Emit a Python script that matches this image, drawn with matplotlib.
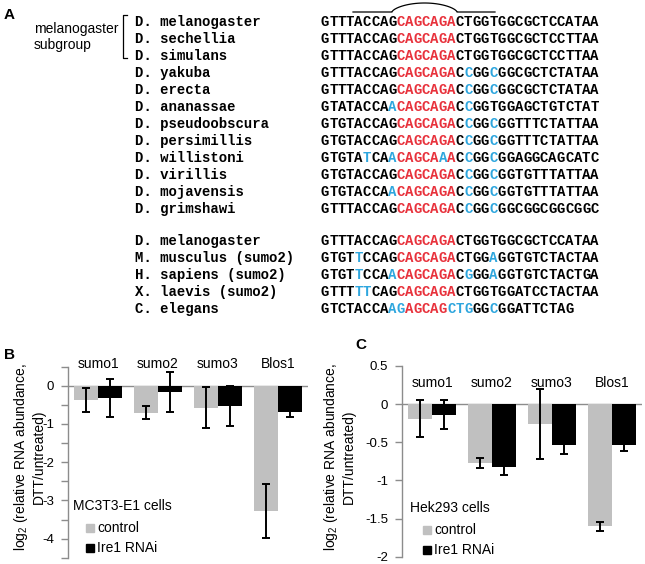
import matplotlib
matplotlib.use("Agg")
import matplotlib.pyplot as plt
from matplotlib.lines import Line2D
from matplotlib.patches import Rectangle
import numpy as np

# ---------------- data ----------------
species_block1 = ["D. melanogaster", "D. sechellia", "D. simulans", "D. yakuba", "D. erecta",
                  "D. ananassae", "D. pseudoobscura", "D. persimillis", "D. willistoni",
                  "D. virillis", "D. mojavensis", "D. grimshawi"]
seqs_block1 = ["GTTTACCAGCAGCAGACTGGTGGCGCTCCATAA",
               "GTTTACCAGCAGCAGACTGGTGGCGCTCCTTAA",
               "GTTTACCAGCAGCAGACTGGTGGCGCTCCTTAA",
               "GTTTACCAGCAGCAGACCGGCGGCGCTCTATAA",
               "GTTTACCAGCAGCAGACCGGCGGCGCTCTATAA",
               "GTATACCAACAGCAGACCGGTGGAGCTGTCTAT",
               "GTGTACCAGCAGCAGACCGGCGGTTTCTATTAA",
               "GTGTACCAGCAGCAGACCGGCGGTTTCTATTAA",
               "GTGTATCAACAGCAAACCGGCGGAGGCAGCATC",
               "GTGTACCAGCAGCAGACCGGCGGTGTTTATTAA",
               "GTGTACCAACAGCAGACCGGCGGTGTTTATTAA",
               "GTTTACCAGCAGCAGACCGGCGGCGGCGGCGGC"]
marks_block1 = ["         RRRRRRR                 ",
                "         RRRRRRR                 ",
                "         RRRRRRR                 ",
                "         RRRRRRR B  B            ",
                "         RRRRRRR B  B            ",
                "        BRRRRRRR B               ",
                "         RRRRRRR B  B            ",
                "         RRRRRRR B  B            ",
                "     B  BRRRRRBR B  B            ",
                "         RRRRRRR B  B            ",
                "        BRRRRRRR B  B            ",
                "         RRRRRRR B  B            "]
species_block2 = ["D. melanogaster", "M. musculus (sumo2)", "H. sapiens (sumo2)",
                  "X. laevis (sumo2)", "C. elegans"]
seqs_block2 = ["GTTTACCAGCAGCAGACTGGTGGCGCTCCATAA",
               "GTGTTCCAGCAGCAGACTGGAGGTGTCTACTAA",
               "GTGTTCCAACAGCAGACGGGAGGTGTCTACTGA",
               "GTTTTTCAGCAGCAGACTGGTGGATCCTACTAA",
               "GTCTACCAAGAGCAGCTGGGCGGATTCTAG"]
marks_block2 = ["         RRRRRRR                 ",
                "    B    RRRRRRR    B            ",
                "    B   BRRRRRRR B  B            ",
                "    BB   RRRRRRR                 ",
                "        BBRRRRRBBB  B         "]
subgroup_label = "melanogaster\nsubgroup"

genes = ["sumo1", "sumo2", "sumo3", "Blos1"]
conditions = ["control", "Ire1 RNAi"]

b_control = [-0.375, -0.71, -0.57, -3.28]
b_control_err = [0.31, 0.17, 0.53, 0.70]
b_ire1 = [-0.32, -0.17, -0.53, -0.69]
b_ire1_err = [0.49, 0.52, 0.52, 0.13]
b_cells = "MC3T3-E1 cells"

c_control = [-0.19, -0.77, -0.26, -1.60]
c_control_err = [0.24, 0.07, 0.465, 0.06]
c_ire1 = [-0.14, -0.82, -0.53, -0.53]
c_ire1_err = [0.19, 0.11, 0.12, 0.08]
c_cells = "Hek293 cells"

# ---------------- figure ----------------
W, H = 645, 564
fig = plt.figure(figsize=(W / 100, H / 100), dpi=100)

def fx(x):
    return x / W

def fy(y):
    return 1 - y / H

SANS = "Liberation Sans"
MONO = "Liberation Mono"
RED = "#e8323c"
BLUE = "#2ea6de"
GRAY = "#c0c0c0"
AXGRAY = "#8c8c8c"
color_of = {" ": "black", "R": RED, "B": BLUE}

# ---------- panel A ----------
fig.text(fx(4), fy(15), "A", fontsize=11, fontweight="bold", family=SANS, ha="left", va="center")

name_x = 135
seq_x = 320.7
cw = 8.43
row_h = 17.0
mono_size = 10.1

def draw_block(names, seqs, marks, y0):
    for r, (nm, sq, mk) in enumerate(zip(names, seqs, marks)):
        y = y0 + r * row_h
        fig.text(fx(name_x), fy(y), nm, family=MONO, fontweight="bold", fontsize=mono_size,
                 ha="left", va="center")
        for i, ch in enumerate(sq):
            fig.text(fx(seq_x + i * cw), fy(y), ch, family=MONO, fontweight="bold",
                     fontsize=mono_size, color=color_of[mk[i]], ha="left", va="center")

draw_block(species_block1, seqs_block1, marks_block1, 22)
draw_block(species_block2, seqs_block2, marks_block2, 241)

# subgroup label and bracket
fig.text(fx(34), fy(37), subgroup_label, family=SANS, fontsize=10, ha="left", va="center",
         linespacing=1.25)
fig.add_artist(Line2D([fx(127), fx(123), fx(123), fx(127)], [fy(15), fy(15), fy(58), fy(58)],
                      color="black", lw=0.9))

# arc above the motif
xs = [353, 392]
ys = [12, 12]
t = np.linspace(0, np.pi, 40)
arc_x = 392 + (457 - 392) * (1 - np.cos(t)) / 2
arc_y = 12 - 9 * np.sin(t) ** 1.3
xs = xs + list(arc_x) + [495]
ys = ys + list(arc_y) + [12]
fig.add_artist(Line2D([fx(v) for v in xs], [fy(v) for v in ys], color="black", lw=0.9))

# ---------- bar panels ----------
def bar_panel(rect, ctrl, ctrl_err, ire, ire_err, ylim, major, minor, ticklabels, label_y,
              cells, letter_xy, legend_xy):
    ax = fig.add_axes(rect)
    x = np.arange(len(genes)) + 0.5
    w = 0.4
    ax.bar(x - w / 2, ctrl, w, color=GRAY, zorder=2)
    ax.bar(x + w / 2, ire, w, color="black", zorder=2)
    ax.errorbar(x - w / 2, ctrl, yerr=ctrl_err, fmt="none", ecolor="black", elinewidth=1.4,
                capsize=2.6, capthick=1.4, zorder=3)
    ax.errorbar(x + w / 2, ire, yerr=ire_err, fmt="none", ecolor="black", elinewidth=1.4,
                capsize=2.6, capthick=1.4, zorder=3)
    ax.axhline(0, color=AXGRAY, lw=1.0, zorder=1)
    ax.set_xlim(0, len(genes))
    ax.set_ylim(*ylim)
    for s in ["top", "right", "bottom"]:
        ax.spines[s].set_visible(False)
    ax.spines["left"].set_color(AXGRAY)
    ax.spines["left"].set_linewidth(1.0)
    ax.set_xticks([])
    ax.set_yticks(major)
    ax.set_yticklabels(ticklabels, family=SANS, fontsize=9.5)
    if minor is not None:
        ax.set_yticks(minor, minor=True)
    ax.tick_params(axis="y", which="both", direction="out", length=5, width=1.0,
                   color=AXGRAY, pad=5)
    for xi, g in zip(x, genes):
        ax.text(xi, label_y, g, ha="center", va="center", family=SANS, fontsize=10, clip_on=False)
    ax.patch.set_alpha(0)
    # legend
    lx, ly = legend_xy
    fig.text(fx(lx), fy(ly), cells, family=SANS, fontsize=10, ha="left", va="center")
    for k, (cond, col) in enumerate(zip(conditions, [GRAY, "black"])):
        yy = ly + 22 + k * 20
        fig.add_artist(Rectangle((fx(lx + 13), fy(yy + 4)), 8 / W, 8 / H, color=col,
                                 transform=fig.transFigure))
        fig.text(fx(lx + 24), fy(yy), cond, family=SANS, fontsize=10, ha="left", va="center")
    fig.text(fx(letter_xy[0]), fy(letter_xy[1]), letter_xy[2], fontsize=11, fontweight="bold",
             family=SANS, ha="left", va="center")
    return ax

# panel B
b_rect = [fx(68), fy(557.7), 240 / W, (557.7 - 366.7) / H]
axB = bar_panel(b_rect, b_control, b_control_err, b_ire1, b_ire1_err, (-4.5, 0.5),
                [0, -1, -2, -3, -4], [0.5, -0.5, -1.5, -2.5, -3.5, -4.5],
                ["0", "-1", "-2", "-3", "-4"], 0.57, b_cells, (4, 355, "B"), (73, 506))
fig.text(fx(29), fy(457), "log$_\\mathregular{2}$ (relative RNA abundance,\nDTT/untreated)",
         family=SANS, fontsize=10, rotation=90, ha="center", va="center",
         multialignment="center", linespacing=1.1)

# panel C
c_rect = [fx(402), fy(556.7), 240 / W, (556.7 - 366.0) / H]
axC = bar_panel(c_rect, c_control, c_control_err, c_ire1, c_ire1_err, (-2, 0.5),
                [0.5, 0, -0.5, -1, -1.5, -2], None,
                ["0.5", "0", "-0.5", "-1", "-1.5", "-2"], 0.28, c_cells, (355, 345, "C"),
                (410, 508))
fig.text(fx(339), fy(457), "log$_\\mathregular{2}$ (relative RNA abundance,\nDTT/untreated)",
         family=SANS, fontsize=10, rotation=90, ha="center", va="center",
         multialignment="center", linespacing=1.1)

plt.rcParams["mathtext.fontset"] = "custom"
fig.savefig("out.png", dpi=100)
